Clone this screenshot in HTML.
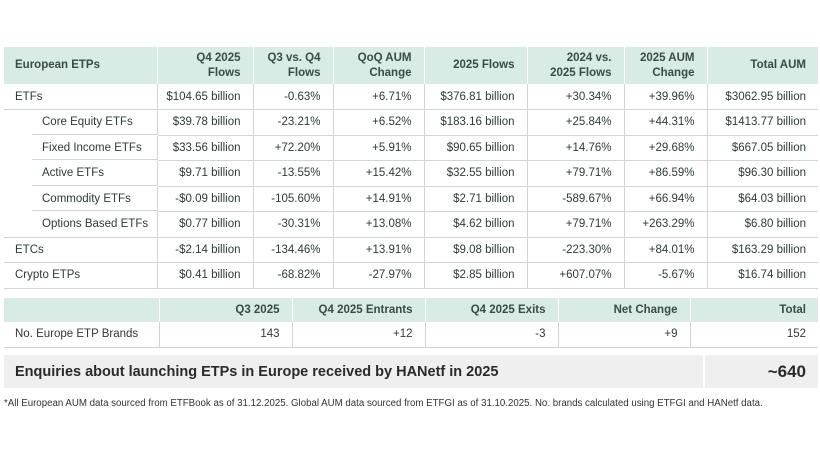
<!DOCTYPE html>
<html><head><meta charset="utf-8"><style>
body{margin:0;width:820px;height:461px;background:#fff;font-family:"Liberation Sans",Arial,sans-serif;color:#2e3a38;position:relative;overflow:hidden}
.a{position:absolute}
table{border-collapse:collapse;position:absolute;table-layout:fixed}
td,th{padding:0 12px 0 0;text-align:right;font-size:11.5px;white-space:nowrap;border-bottom:1px solid #d3d3d3}
th{background:#d8ebe4;font-weight:bold;color:#3c4a48;line-height:15px;border-left:1px solid #fff;border-bottom:none}
td{border-left:1px solid #d3d3d3}
td:first-child,th:first-child{text-align:left;border-left:none;padding-left:11px}
tr.s td:first-child{padding-left:38px;border-bottom-color:transparent;background:linear-gradient(#d3d3d3,#d3d3d3) 28px 100%/100% 1px no-repeat}
</style></head><body>
<table style="left:4px;top:47px;width:814px">
<colgroup><col style="width:153px"><col style="width:96px"><col style="width:80px"><col style="width:91px"><col style="width:103px"><col style="width:97px"><col style="width:83px"><col style="width:111px"></colgroup>
<tr style="height:37px"><th>European ETPs</th><th>Q4 2025<br>Flows</th><th>Q3 vs. Q4<br>Flows</th><th>QoQ AUM<br>Change</th><th>2025 Flows</th><th>2024 vs.<br>2025 Flows</th><th>2025 AUM<br>Change</th><th>Total AUM</th></tr>
<tr style="height:25.5px"><td>ETFs</td><td>$104.65 billion</td><td>-0.63%</td><td>+6.71%</td><td>$376.81 billion</td><td>+30.34%</td><td>+39.96%</td><td>$3062.95 billion</td></tr>
<tr class="s" style="height:25.5px"><td>Core Equity ETFs</td><td>$39.78 billion</td><td>-23.21%</td><td>+6.52%</td><td>$183.16 billion</td><td>+25.84%</td><td>+44.31%</td><td>$1413.77 billion</td></tr>
<tr class="s" style="height:25.5px"><td>Fixed Income ETFs</td><td>$33.56 billion</td><td>+72.20%</td><td>+5.91%</td><td>$90.65 billion</td><td>+14.76%</td><td>+29.68%</td><td>$667.05 billion</td></tr>
<tr class="s" style="height:25.5px"><td>Active ETFs</td><td>$9.71 billion</td><td>-13.55%</td><td>+15.42%</td><td>$32.55 billion</td><td>+79.71%</td><td>+86.59%</td><td>$96.30 billion</td></tr>
<tr class="s" style="height:25.5px"><td>Commodity ETFs</td><td>-$0.09 billion</td><td>-105.60%</td><td>+14.91%</td><td>$2.71 billion</td><td>-589.67%</td><td>+66.94%</td><td>$64.03 billion</td></tr>
<tr class="s" style="height:25.5px;"><td style="background:none;border-bottom:1px solid #d3d3d3">Options Based ETFs</td><td>$0.77 billion</td><td>-30.31%</td><td>+13.08%</td><td>$4.62 billion</td><td>+79.71%</td><td>+263.29%</td><td>$6.80 billion</td></tr>
<tr style="height:25.5px"><td>ETCs</td><td>-$2.14 billion</td><td>-134.46%</td><td>+13.91%</td><td>$9.08 billion</td><td>-223.30%</td><td>+84.01%</td><td>$163.29 billion</td></tr>
<tr style="height:25.5px"><td>Crypto ETPs</td><td>$0.41 billion</td><td>-68.82%</td><td>-27.97%</td><td>$2.85 billion</td><td>+607.07%</td><td>-5.67%</td><td>$16.74 billion</td></tr>
</table>
<table style="left:4px;top:298px;width:814px">
<colgroup><col style="width:155px"><col style="width:133px"><col style="width:133px"><col style="width:133px"><col style="width:132px"><col style="width:128px"></colgroup>
<tr style="height:24px"><th></th><th>Q3 2025</th><th>Q4 2025 Entrants</th><th>Q4 2025 Exits</th><th>Net Change</th><th>Total</th></tr>
<tr style="height:25px"><td>No. Europe ETP Brands</td><td>143</td><td>+12</td><td>-3</td><td>+9</td><td>152</td></tr>
</table>
<div class="a" style="left:4px;top:355px;width:814px;height:33px;background:#efefef"></div>
<div class="a" style="left:703px;top:355px;width:2px;height:33px;background:#fff"></div>
<div class="a" style="left:15px;top:364px;font-size:14.5px;font-weight:bold;color:#2a2a2a">Enquiries about launching ETPs in Europe received by HANetf in 2025</div>
<div class="a" style="right:14px;top:362px;font-size:17px;font-weight:bold;color:#2a2a2a">~640</div>
<div class="a" style="left:4px;top:398px;font-size:9.7px;color:#333">*All European AUM data sourced from ETFBook as of 31.12.2025. Global AUM data sourced from ETFGI as of 31.10.2025. No. brands calculated using ETFGI and HANetf data.</div>
</body></html>
